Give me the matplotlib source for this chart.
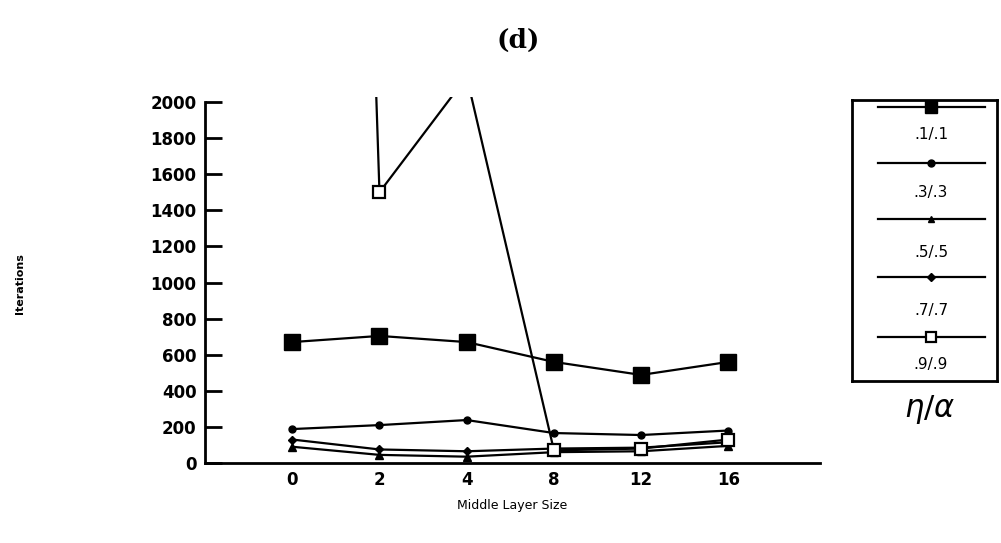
import numpy as np
import matplotlib
matplotlib.use("Agg")
import matplotlib.pyplot as plt

# middle layer sizes (categorical axis)
layer_sizes = ["0", "2", "4", "8", "12", "16"]

# iterations to converge for each eta/alpha setting
iters_01 = [670, 704, 670, 560, 488, 560]
iters_03 = [188, 210, 238, 166, 155, 180]
iters_05 = [90, 45, 35, 60, 65, 95]
iters_07 = [130, 75, 65, 80, 85, 115]
iters_09 = [16000, 1500, 2140, 70, 80, 130]

labels = [".1/.1", ".3/.3", ".5/.5", ".7/.7", ".9/.9"]
series = [iters_01, iters_03, iters_05, iters_07, iters_09]
marker_styles = [
    dict(marker="s", ms=11, mfc="black"),
    dict(marker="o", ms=5, mfc="black"),
    dict(marker="^", ms=6, mfc="black"),
    dict(marker="D", ms=4, mfc="black"),
    dict(marker="s", ms=9, mfc="white", mew=1.6),
]
legend_ms = [8, 5, 5, 4, 7]

W, H = 1001, 543
fig = plt.figure(figsize=(W / 100, H / 100), dpi=100)
ax = fig.add_axes([205 / W, 1 - 463 / H, (820 - 205) / W, (463 - 96.6) / H])

x = np.arange(len(layer_sizes))
for vals, st in zip(series, marker_styles):
    ax.plot(x, vals, color="black", lw=1.6, mec="black", **st)

ax.set_xlim(-1.0, 6.05)
ax.set_ylim(0, 2030)
ax.set_yticks(np.arange(0, 2001, 200))
ax.set_xticks(x)
ax.set_xticklabels(layer_sizes)
for s in ["top", "right"]:
    ax.spines[s].set_visible(False)
ax.spines["left"].set_bounds(0, 2000)
ax.spines["left"].set_linewidth(2)
ax.spines["bottom"].set_linewidth(2)
ax.tick_params(axis="y", direction="in", length=12, width=2, pad=6, labelsize=12)
ax.tick_params(axis="x", length=0, pad=6, labelsize=12)
for t in ax.get_xticklabels() + ax.get_yticklabels():
    t.set_fontweight("bold")

fig.text(518 / W, 1 - 40 / H, "(d)", ha="center", va="center",
         family="DejaVu Serif", fontweight="bold", fontsize=19)
fig.text(20 / W, 1 - 284 / H, "Iterations", rotation=90, ha="center", va="center",
         fontsize=8, fontweight="bold")
fig.text(512 / W, 1 - 505 / H, "Middle Layer Size", ha="center", va="center",
         fontsize=9)

# legend drawn as its own boxed panel
lax = fig.add_axes([852 / W, 1 - 381 / H, 145 / W, 281 / H])
lax.set_xlim(852, 997)
lax.set_ylim(381, 100)
lax.set_xticks([])
lax.set_yticks([])
for s in lax.spines.values():
    s.set_linewidth(2)
line_rows = [107, 163, 219, 277, 337]
text_rows = [135, 193, 253, 310, 365]
for lab, st, ms, ly, ty in zip(labels, marker_styles, legend_ms, line_rows, text_rows):
    lax.plot([878, 985], [ly, ly], color="black", lw=1.6)
    lax.plot([931], [ly], color="black", mec="black", **dict(st, ms=ms))
    lax.text(931, ty, lab, ha="center", va="center", fontsize=11)

fig.text(930 / W, 1 - 410 / H, r"$\eta/\alpha$", ha="center", va="center", fontsize=22)

fig.savefig("out.png", dpi=100)
